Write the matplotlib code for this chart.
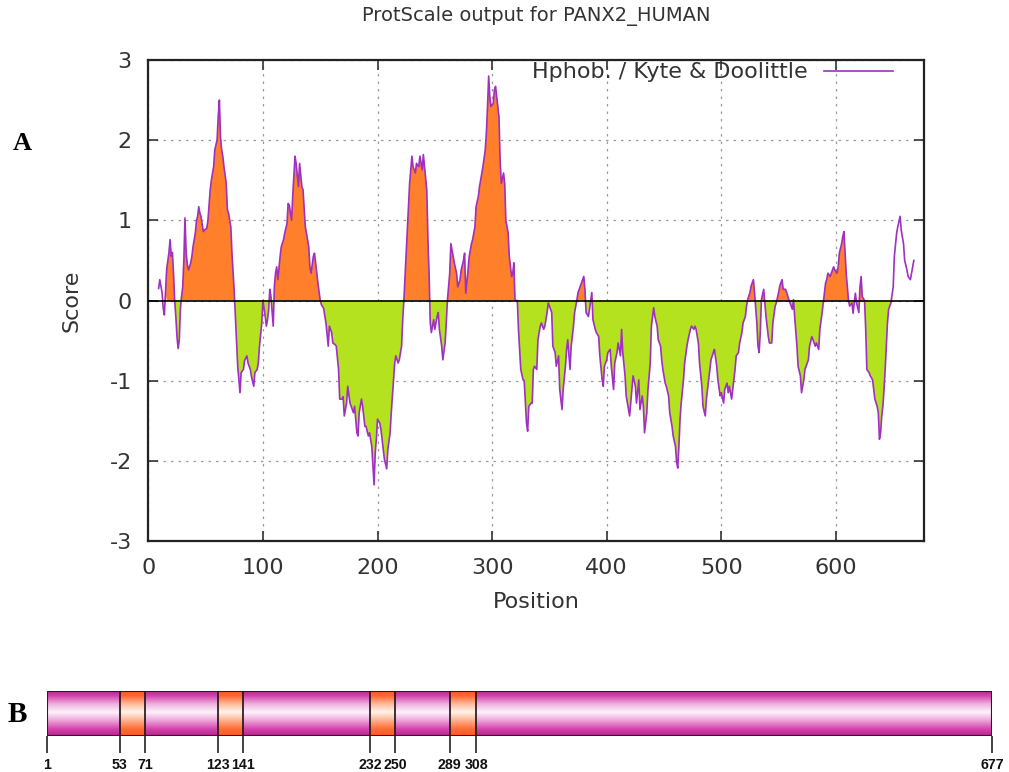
import numpy as np
import matplotlib
matplotlib.use("Agg")
import matplotlib.pyplot as plt
from matplotlib.colors import LinearSegmentedColormap
from matplotlib.patches import Rectangle

plt.rcParams["axes.unicode_minus"] = False

# Kyte & Doolittle profile
position = [9, 10, 12, 13, 14, 15, 16, 18, 19, 20, 21, 22, 23, 24, 25, 26, 27, 28, 29, 30,
            31, 32, 33, 34, 35, 37, 38, 39, 41, 42, 43, 44, 45, 46, 47, 48, 49, 51, 52, 54,
            55, 57, 58, 60, 61, 62, 63, 64, 65, 66, 68, 69, 70, 72, 73, 74, 75, 76, 77, 78,
            80, 81, 83, 84, 86, 87, 89, 90, 92, 93, 95, 96, 97, 99, 100, 102, 103, 104, 105, 106,
            107, 109, 110, 111, 112, 113, 115, 116, 118, 119, 121, 122, 123, 125, 126, 128, 129, 131, 132, 134,
            135, 137, 138, 140, 141, 142, 144, 145, 147, 148, 150, 151, 153, 155, 157, 158, 160, 161, 163, 164,
            166, 167, 169, 170, 171, 173, 174, 176, 177, 179, 180, 182, 183, 184, 186, 187, 189, 190, 192, 193,
            195, 196, 197, 198, 199, 200, 202, 203, 205, 206, 208, 209, 211, 212, 214, 215, 216, 218, 219, 221,
            222, 223, 225, 227, 228, 230, 231, 233, 234, 236, 237, 239, 240, 241, 243, 244, 245, 246, 247, 249,
            250, 252, 253, 254, 256, 257, 259, 260, 261, 263, 264, 266, 267, 269, 270, 272, 273, 275, 276, 277,
            279, 280, 282, 283, 285, 286, 288, 289, 291, 292, 294, 295, 296, 297, 298, 299, 301, 302, 303, 305,
            306, 307, 308, 310, 311, 312, 314, 315, 317, 318, 319, 320, 322, 323, 325, 327, 328, 330, 331, 332,
            334, 335, 336, 337, 339, 340, 342, 343, 345, 346, 348, 349, 350, 352, 353, 355, 356, 358, 359, 361,
            362, 364, 365, 366, 368, 369, 371, 372, 374, 375, 377, 378, 380, 381, 382, 384, 385, 387, 388, 390,
            391, 393, 394, 396, 397, 398, 400, 401, 403, 404, 406, 407, 409, 410, 412, 413, 414, 416, 417, 419,
            420, 422, 423, 425, 426, 428, 429, 431, 432, 433, 435, 436, 438, 439, 441, 442, 444, 445, 447, 448,
            449, 451, 452, 454, 455, 457, 458, 460, 461, 462, 463, 464, 465, 467, 468, 470, 471, 473, 474, 476,
            477, 478, 480, 481, 483, 484, 486, 487, 489, 490, 491, 493, 494, 496, 497, 499, 500, 502, 503, 505,
            506, 507, 509, 510, 512, 513, 515, 516, 518, 519, 521, 522, 523, 525, 526, 528, 529, 531, 532, 533,
            534, 535, 537, 538, 539, 541, 542, 544, 545, 547, 548, 550, 551, 553, 554, 556, 557, 559, 560, 562,
            563, 564, 566, 567, 569, 570, 572, 573, 574, 576, 577, 579, 580, 582, 583, 585, 586, 588, 589, 590,
            591, 592, 593, 595, 596, 598, 599, 601, 602, 603, 605, 606, 607, 608, 609, 611, 612, 614, 615, 617,
            618, 620, 621, 622, 623, 625, 626, 627, 629, 630, 632, 633, 634, 636, 637, 638, 639, 640, 641, 642,
            643, 645, 646, 647, 648, 650, 651, 653, 654, 656, 657, 659, 660, 662, 663, 665, 666, 668]
score = [0.15, 0.26, 0.1, -0.1, -0.18, 0.1, 0.39, 0.6, 0.76, 0.55, 0.6, 0.34, 0.0, -0.2, -0.45, -0.6, -0.5, -0.1, 0.05, 0.17,
         0.5, 1.03, 0.6, 0.45, 0.38, 0.47, 0.55, 0.67, 0.84, 0.99, 1.05, 1.17, 1.09, 1.05, 0.95, 0.86, 0.88, 0.9, 1.0, 1.38,
         1.5, 1.67, 1.88, 2.0, 2.3, 2.5, 2.04, 1.88, 1.8, 1.67, 1.46, 1.13, 1.09, 0.92, 0.59, 0.34, 0.1, -0.2, -0.49, -0.82,
         -1.15, -0.9, -0.86, -0.75, -0.69, -0.78, -0.86, -0.95, -1.07, -0.9, -0.86, -0.78, -0.57, -0.28, 0.0, -0.2, -0.32, -0.24, -0.12, 0.14,
         0.05, -0.32, 0.18, 0.34, 0.42, 0.26, 0.55, 0.67, 0.76, 0.84, 0.96, 1.21, 1.19, 1.0, 1.3, 1.8, 1.71, 1.42, 1.71, 1.42,
         1.38, 0.92, 0.84, 0.67, 0.42, 0.34, 0.55, 0.59, 0.34, 0.22, 0.0, -0.05, -0.1, -0.28, -0.57, -0.32, -0.4, -0.53, -0.55, -0.57,
         -0.86, -1.23, -1.23, -1.2, -1.44, -1.28, -1.07, -1.28, -1.32, -1.4, -1.32, -1.65, -1.69, -1.4, -1.23, -1.32, -1.57, -1.57, -1.69, -1.65,
         -1.82, -2.07, -2.3, -1.9, -1.73, -1.48, -1.53, -1.61, -1.86, -1.98, -2.1, -1.86, -1.65, -1.4, -0.99, -0.78, -0.69, -0.78, -0.74, -0.57,
         -0.24, 0.0, 0.59, 1.17, 1.46, 1.8, 1.67, 1.59, 1.71, 1.67, 1.8, 1.63, 1.82, 1.67, 1.38, 0.76, 0.34, -0.28, -0.4, -0.24,
         -0.36, -0.2, -0.15, -0.36, -0.57, -0.74, -0.53, -0.28, 0.0, 0.34, 0.71, 0.55, 0.47, 0.34, 0.17, 0.26, 0.38, 0.5, 0.59, 0.09,
         0.38, 0.55, 0.71, 0.76, 0.92, 1.17, 1.3, 1.42, 1.59, 1.67, 1.88, 2.09, 2.42, 2.8, 2.54, 2.42, 2.46, 2.63, 2.67, 2.42,
         2.29, 1.75, 1.46, 1.59, 1.46, 1.0, 0.84, 0.55, 0.3, 0.34, 0.47, 0.0, 0.0, -0.36, -0.86, -0.99, -1.0, -1.53, -1.63, -1.32,
         -1.28, -1.28, -0.86, -0.82, -0.86, -0.49, -0.32, -0.28, -0.36, -0.32, -0.15, -0.03, -0.07, -0.15, -0.57, -0.65, -0.82, -0.69, -1.11, -1.36,
         -1.11, -0.82, -0.61, -0.49, -0.86, -0.57, -0.32, -0.15, 0.01, 0.1, 0.18, 0.22, 0.3, 0.14, -0.15, -0.2, -0.11, 0.1, -0.24, -0.36,
         -0.4, -0.45, -0.69, -0.99, -1.07, -0.82, -0.74, -0.65, -0.61, -0.82, -1.11, -0.78, -0.65, -0.53, -0.69, -0.36, -0.65, -0.94, -1.19, -1.36,
         -1.44, -1.11, -0.94, -1.07, -1.28, -0.99, -1.36, -1.19, -1.32, -1.65, -1.4, -1.11, -0.78, -0.32, -0.09, -0.2, -0.32, -0.49, -0.57, -0.74,
         -0.86, -1.03, -1.07, -1.19, -1.4, -1.57, -1.69, -1.82, -2.02, -2.09, -1.82, -1.48, -1.28, -0.99, -0.78, -0.57, -0.49, -0.36, -0.32, -0.36,
         -0.32, -0.36, -0.53, -0.78, -1.07, -1.32, -1.44, -1.23, -0.99, -0.86, -0.74, -0.65, -0.61, -0.82, -0.99, -1.19, -1.15, -1.28, -1.11, -1.03,
         -1.15, -1.07, -1.23, -1.11, -0.86, -0.69, -0.65, -0.53, -0.4, -0.28, -0.2, -0.07, 0.01, 0.1, 0.18, 0.26, 0.1, -0.28, -0.57, -0.65,
         -0.4, 0.01, 0.14, -0.03, -0.2, -0.45, -0.53, -0.53, -0.28, -0.07, -0.03, 0.1, 0.18, 0.26, 0.14, 0.14, 0.1, 0.01, -0.03, -0.11,
         0.01, -0.2, -0.57, -0.82, -0.94, -1.15, -0.99, -0.86, -0.82, -0.74, -0.57, -0.45, -0.49, -0.57, -0.53, -0.61, -0.36, -0.15, -0.03, 0.1,
         0.22, 0.26, 0.34, 0.3, 0.34, 0.42, 0.38, 0.34, 0.42, 0.59, 0.71, 0.8, 0.86, 0.6, 0.34, 0.0, -0.07, -0.03, -0.16, 0.09,
         -0.03, -0.15, 0.17, 0.3, 0.05, 0.0, -0.36, -0.86, -0.9, -0.94, -0.99, -1.11, -1.23, -1.32, -1.4, -1.73, -1.65, -1.44, -1.32, -1.11,
         -0.86, -0.28, -0.11, -0.07, -0.03, 0.17, 0.55, 0.84, 0.92, 1.05, 0.88, 0.71, 0.5, 0.38, 0.3, 0.26, 0.34, 0.5]

# predicted transmembrane segments (panel B)
tm_start = [53, 123, 232, 289]
tm_end = [71, 141, 250, 308]
seq_len = 677
fill_from, fill_to = 16, 648

x_ticks = [0, 100, 200, 300, 400, 500, 600]
y_ticks = [-3, -2, -1, 0, 1, 2, 3]

pos = np.array(position)
sc = np.array(score)

fig = plt.figure(figsize=(10.09, 7.72), dpi=100)

# ---- panel A ----
ax = fig.add_axes([0.147, 0.2992, 0.7689, 0.6231])
inside = (pos >= fill_from) & (pos <= fill_to)
ax.fill_between(pos, sc, 0, where=inside & (sc >= 0), interpolate=True,
                color="#ff7f2a", lw=0, zorder=2)
ax.fill_between(pos, sc, 0, where=inside & (sc <= 0), interpolate=True,
                color="#b4e21e", lw=0, zorder=2)
ax.plot(pos, sc, color="#a030c0", lw=1.2, zorder=3,
        label="Hphob. / Kyte & Doolittle")
ax.axhline(0, color="black", lw=1.2, zorder=4)

ax.set_xlim(0, seq_len)
ax.set_ylim(-3, 3)
ax.set_xticks(x_ticks)
ax.set_yticks(y_ticks)
ax.grid(True, color="#9a9a9a", lw=0.9, linestyle=(0, (2, 4)), zorder=1)
ax.tick_params(direction="in", length=7, width=1.2, top=True, right=True,
               labelsize=16, colors="#333333", pad=12)
for s in ax.spines.values():
    s.set_color("#222222")
    s.set_linewidth(1.6)

ax.set_xlabel("Position", fontsize=16, color="#333333", labelpad=10)
ax.set_ylabel("Score", fontsize=16, color="#333333", labelpad=20)
ax.set_title("ProtScale output for PANX2_HUMAN", fontsize=14,
             color="#333333", pad=28)
ax.legend(loc="upper right", bbox_to_anchor=(0.96, 0.995), frameon=False,
          markerfirst=False, fontsize=16, handlelength=3.1,
          handletextpad=0.75, borderpad=0, borderaxespad=0,
          labelcolor="#333333")

fig.text(0.022, 1 - 143 / 772, "A", fontsize=19, fontweight="bold",
         family=["Liberation Serif", "DejaVu Serif"], ha="center", va="center")

# ---- panel B ----
bx = fig.add_axes([47 / 1009, 1 - 735.7 / 772, 945 / 1009, 45 / 772])
bx.axis("off")

grad = np.linspace(0, 1, 256).reshape(-1, 1)
pink = LinearSegmentedColormap.from_list("pink", [
    (0.0, "#b8248e"), (0.15, "#d442ac"), (0.35, "#eeaadc"),
    (0.52, "#fdf2fb"), (0.7, "#eeb0de"), (0.88, "#d340aa"), (1.0, "#b8248e")])
orange = LinearSegmentedColormap.from_list("orange", [
    (0.0, "#ff5a24"), (0.15, "#ff6a30"), (0.35, "#ffb494"),
    (0.52, "#fff3ea"), (0.7, "#ffba9c"), (0.88, "#ff6430"), (1.0, "#ff5a24")])

bx.imshow(grad, cmap=pink, extent=[1, seq_len, 0, 1], aspect="auto",
          origin="lower", zorder=1)
for a, b in zip(tm_start, tm_end):
    bx.imshow(grad, cmap=orange, extent=[a, b, 0, 1], aspect="auto",
              origin="lower", zorder=2)
bx.set_xlim(1, seq_len)
bx.set_ylim(0, 1)
bx.add_patch(Rectangle((1, 0), seq_len - 1, 1, fill=False, ec="#3a1030",
                       lw=1.5, zorder=4))
bounds = tm_start + tm_end
bx.vlines(bounds, 0, 1, color="#1e1018", lw=1.2, zorder=3)
marks = [1] + sorted(bounds) + [seq_len]
tk = bx.vlines(marks, -0.38, 0, color="#222222", lw=1.2, zorder=3)
tk.set_clip_on(False)
for m in marks:
    bx.text(m, -0.65, str(m), ha="center", va="center", fontsize=10.2,
            fontweight="bold",
            family=["Liberation Sans Narrow", "Liberation Sans"],
            color="#111111", clip_on=False)

fig.text(17 / 1009, 1 - 715 / 772, "B", fontsize=21, fontweight="bold",
         family=["Liberation Serif", "DejaVu Serif"], ha="center", va="center")

fig.savefig("out.png", dpi=100)
